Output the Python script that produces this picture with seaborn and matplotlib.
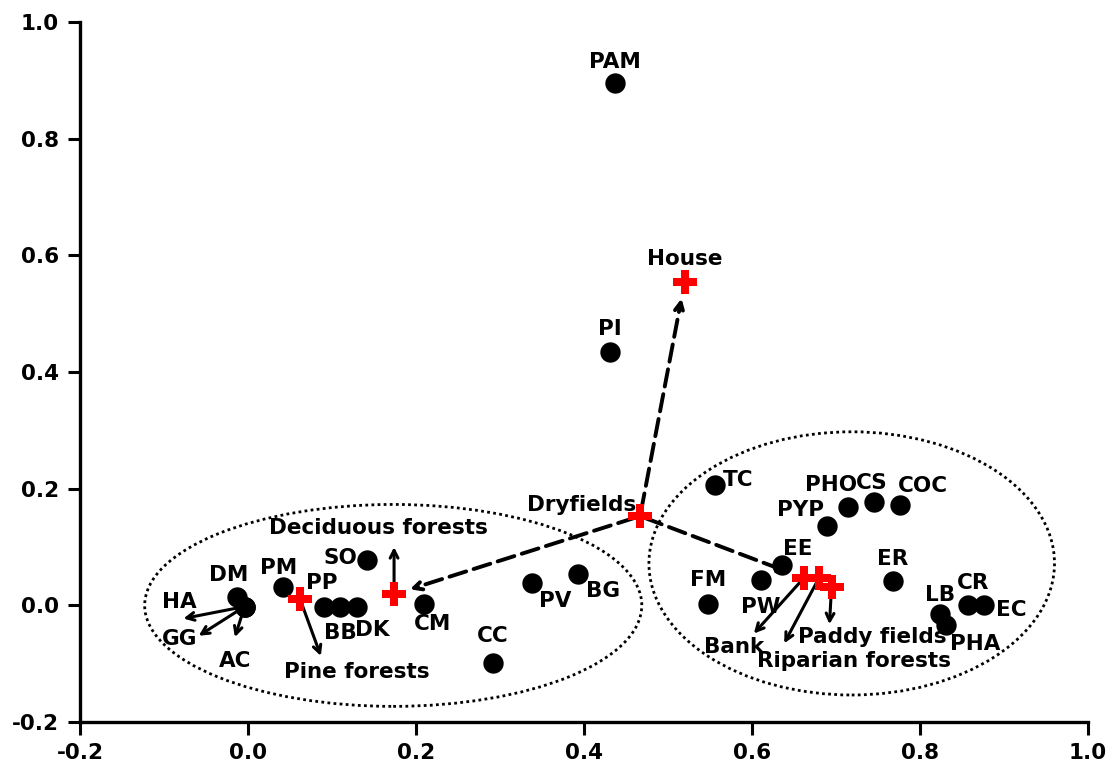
import matplotlib
matplotlib.use('Agg')
import matplotlib.pyplot as plt
from matplotlib.patches import Ellipse
import seaborn as sns
import pandas as pd

# species scores
species = ['PAM', 'PI', 'TC', 'PHO', 'CS', 'COC', 'PYP', 'EE', 'PW', 'FM', 'ER',
           'LB', 'PHA', 'CR', 'EC', 'SO', 'PM', 'DM', 'HA', 'GG', 'AC', 'PP', 'BB',
           'DK', 'CM', 'CC', 'PV', 'BG']
sp_x = [0.437, 0.431, 0.556, 0.714, 0.746, 0.777, 0.690, 0.636, 0.611, 0.548, 0.768,
        0.824, 0.831, 0.857, 0.876, 0.142, 0.042, -0.013, -0.004, -0.004, -0.004, 0.091, 0.110,
        0.130, 0.210, 0.292, 0.338, 0.393]
sp_y = [0.895, 0.434, 0.206, 0.168, 0.177, 0.172, 0.136, 0.069, 0.043, 0.003, 0.041,
        -0.015, -0.033, 0.000, 0.000, 0.077, 0.031, 0.014, -0.002, -0.002, -0.002, -0.002, -0.002,
        -0.002, 0.003, -0.098, 0.039, 0.053]

# habitat centroids
habitats = ['House', 'Dryfields', 'Deciduous forests', 'Pine forests', 'Bank',
            'Riparian forests', 'Paddy fields']
hab_x = [0.520, 0.467, 0.174, 0.062, 0.662, 0.680, 0.695]
hab_y = [0.554, 0.153, 0.019, 0.011, 0.047, 0.047, 0.032]

# axis ticks
x_ticks = [-0.2, 0.0, 0.2, 0.4, 0.6, 0.8, 1.0]
y_ticks = [-0.2, 0.0, 0.2, 0.4, 0.6, 0.8, 1.0]

sp = pd.DataFrame({'name': species, 'x': sp_x, 'y': sp_y})
hab = pd.DataFrame({'name': habitats, 'x': hab_x, 'y': hab_y})

sns.set_style('ticks')
plt.rcParams['font.family'] = ['DejaVu Sans']
plt.rcParams['font.weight'] = 'bold'
plt.rcParams['text.color'] = 'black'
plt.rcParams['axes.edgecolor'] = 'black'

fig = plt.figure(figsize=(11.19, 7.79), dpi=100)
ax = fig.add_axes([0.0715, 0.073, 0.9005, 0.899])

# grouping ellipses
ax.add_patch(Ellipse((0.173, 0.0), 0.592, 0.346, fill=False, ls=(0, (1, 1.2)), lw=2, ec='black'))
ax.add_patch(Ellipse((0.719, 0.072), 0.483, 0.451, fill=False, ls=(0, (1, 1.2)), lw=2, ec='black'))

# dashed arrows from Dryfields
dry = hab[hab['name'] == 'Dryfields'].iloc[0]
for target in ['House', 'Deciduous forests', 'Bank']:
    t = hab[hab['name'] == target].iloc[0]
    ax.annotate('', xy=(t['x'], t['y']), xytext=(dry['x'], dry['y']),
                arrowprops=dict(arrowstyle='->,head_length=0.6,head_width=0.3', lw=2.8,
                                ls=(0, (4.5, 2)), color='black', shrinkA=4, shrinkB=12),
                zorder=2)

sns.scatterplot(data=sp, x='x', y='y', ax=ax, s=215, color='black', edgecolor='black',
                linewidth=0, zorder=3, legend=False)
sns.scatterplot(data=hab, x='x', y='y', ax=ax, s=300, marker='P', color='red',
                edgecolor='red', linewidth=0, zorder=4, legend=False)

# label offsets (points)
sp_off = {'PAM': (0, 15), 'PI': (0, 16.5), 'TC': (17, 4), 'PHO': (-11.5, 16), 'CS': (-2, 14),
          'COC': (16.5, 14), 'PYP': (-19, 11.5), 'EE': (11.5, 11.5), 'PW': (0, -19),
          'FM': (0, 17), 'ER': (0, 16.5), 'LB': (0, 14), 'PHA': (21, -14), 'CR': (4, 16),
          'EC': (20, -3.5), 'SO': (-19.5, 1.5), 'PM': (-3.5, 14), 'DM': (-6, 16),
          'HA': (-47, 3), 'GG': (-47, -23), 'AC': (-7, -39), 'PP': (-2, 17), 'BB': (0, -19),
          'DK': (11, -17), 'CM': (6, -15), 'CC': (0, 19), 'PV': (16.5, -13.5), 'BG': (18, -12)}
sp_arrow = {'HA': (-44, -8.6), 'GG': (-33, -21), 'AC': (-7, -22)}

hab_off = {'House': (0, 16.5), 'Dryfields': (-42, 8), 'Deciduous forests': (-11.5, 48),
           'Pine forests': (41, -52.5), 'Bank': (-50, -50), 'Riparian forests': (25, -60),
           'Paddy fields': (29, -36)}
hab_arrow = {'Deciduous forests': (0, 34), 'Pine forests': (15, -41), 'Bank': (-36, -40),
             'Riparian forests': (-25, -47), 'Paddy fields': (-1.5, -27)}

arrow_kw = dict(arrowstyle='<-,head_length=0.55,head_width=0.28', lw=2.2, color='black',
                shrinkA=0, shrinkB=4)


def label_points(df, offsets, arrows):
    for _, r in df.iterrows():
        name = r['name']
        if name in arrows:
            ax.annotate('', xy=(r['x'], r['y']), xytext=arrows[name], textcoords='offset points',
                        arrowprops=arrow_kw, zorder=2)
        ax.annotate(name, (r['x'], r['y']), xytext=offsets[name], textcoords='offset points',
                    ha='center', va='center', fontsize=15.5, fontweight='bold', color='black',
                    zorder=5)


label_points(sp, sp_off, sp_arrow)
label_points(hab, hab_off, hab_arrow)

ax.set_xlim(-0.2, 1.0)
ax.set_ylim(-0.2, 1.0)
ax.set_xticks(x_ticks)
ax.set_yticks(y_ticks)
ax.set_xticklabels([f'{v:.1f}' for v in x_ticks], fontsize=15.5, fontweight='bold')
ax.set_yticklabels([f'{v:.1f}' for v in y_ticks], fontsize=15.5, fontweight='bold')
ax.set_xlabel('')
ax.set_ylabel('')
sns.despine(ax=ax)
for s in ['left', 'bottom']:
    ax.spines[s].set_linewidth(2.4)
    ax.spines[s].set_color('black')
ax.tick_params(axis='both', direction='out', length=9, width=2.2, colors='black', pad=6)

plt.savefig('out.png', dpi=100)
